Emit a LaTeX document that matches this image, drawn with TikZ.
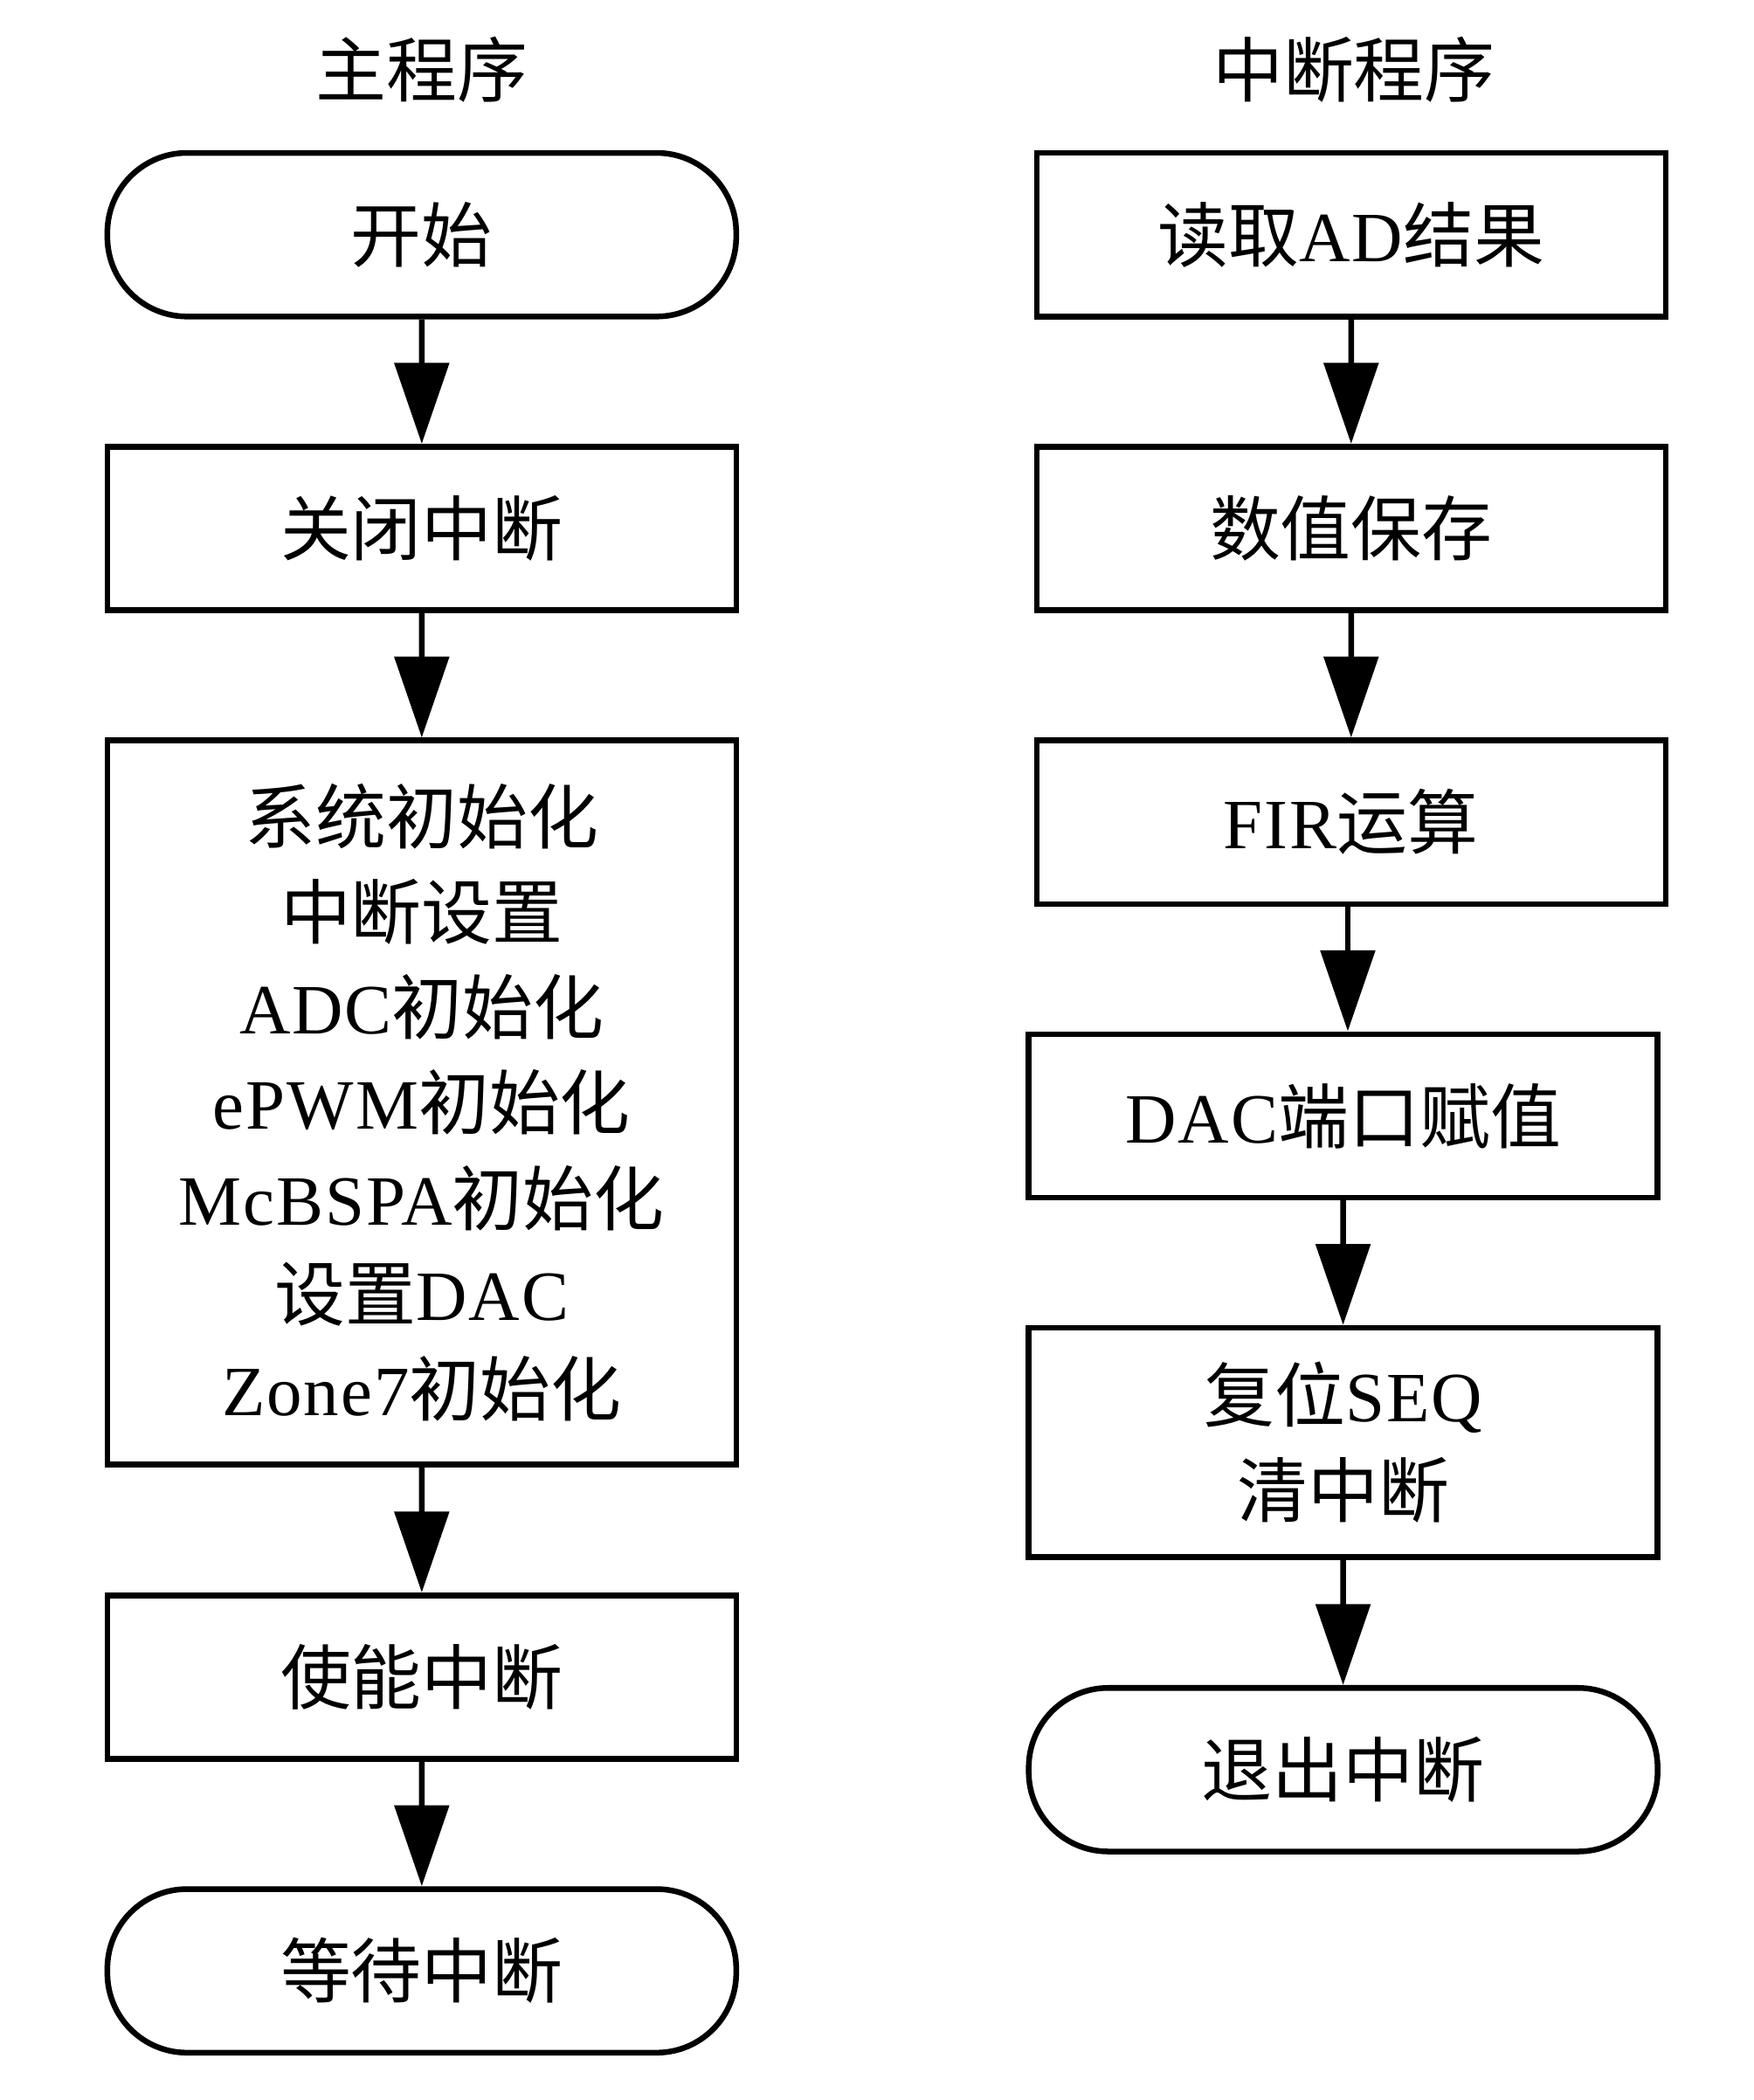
\documentclass[tikz,border=0pt]{standalone}
\usepackage{fontspec}
\setmainfont{Liberation Serif}[LetterSpace=2.5]
\newfontfamily\cjkfont{Noto Sans CJK SC}
\newcommand\zh[1]{{\cjkfont #1}}
\usetikzlibrary{arrows.meta}
\begin{document}
\begin{tikzpicture}[x=0.02cm,y=-0.02cm,
  font=\fontsize{30pt}{40.5pt}\selectfont,
  box/.style={draw, line width=2.4pt, rectangle, minimum width=9.38cm,
    minimum height=2.44cm, inner sep=0pt, align=center},
  term/.style={box, rounded corners=1.18cm},
  arr/.style={line width=2.4pt, -{Triangle[length=1.2cm,width=0.8cm]}},
  titlenode/.style={inner sep=0pt}]
\useasboundingbox (0,0) rectangle (1300,1556.4);
\begin{scope}[scale=0.994, transform shape]
% titles
\node[titlenode] (t1) at (314.5,52) {\zh{主程序}};
\node[titlenode] (t2) at (1009.5,52) {\zh{中断程序}};
% main program
\node[term] (start) at (314.5,175) {\zh{开始}};
\node[box] (close) at (314.5,394) {\zh{关闭中断}};
\node[box, minimum height=10.8cm] (init) at (314.5,822)
  {\zh{系统初始化}\\ \zh{中断设置}\\ ADC\zh{初始化}\\ ePWM\zh{初始化}\\
   McBSPA\zh{初始化}\\ \zh{设置}DAC\\ Zone7\zh{初始化}};
\node[box] (en) at (314.5,1250.5) {\zh{使能中断}};
\node[term] (wait) at (314.5,1469.5) {\zh{等待中断}};
% interrupt program
\node[box] (read) at (1007.5,175) {\zh{读取}AD\zh{结果}};
\node[box] (save) at (1007.5,394) {\zh{数值保存}};
\node[box] (fir) at (1007.5,613) {FIR\zh{运算}};
\node[box] (dac) at (1001.5,832) {DAC\zh{端口赋值}};
\node[box, minimum height=3.42cm] (rst) at (1001.5,1075.5) {\zh{复位}SEQ\\ \zh{清中断}};
\node[term] (exit) at (1001.5,1319.5) {\zh{退出中断}};
\coordinate (mid) at (1005,0);
% connectors
\draw[arr] (start) -- (close);
\draw[arr] (close) -- (init);
\draw[arr] (init) -- (en);
\draw[arr] (en) -- (wait);
\draw[arr] (read) -- (save);
\draw[arr] (save) -- (fir);
\draw[arr] (fir.south -| mid) -- (dac.north -| mid);
\draw[arr] (dac) -- (rst);
\draw[arr] (rst) -- (exit);
\end{scope}
\end{tikzpicture}
\end{document}
